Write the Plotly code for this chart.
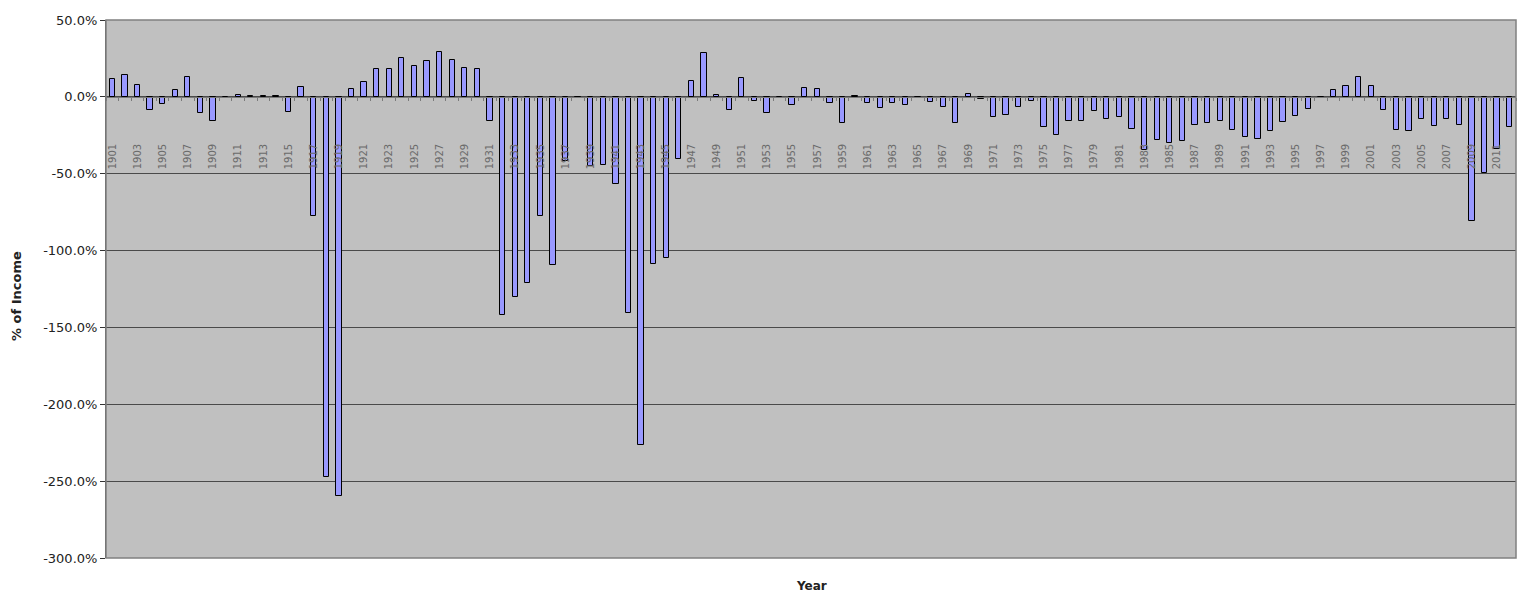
import plotly.graph_objects as go

years = list(range(1901, 2013))
values = [
    11.3, 14.1, 8.0, -8.7, -4.5, 4.3, 13.0, -10.4, -15.8, -1.0,
    1.5, 0.8, 0.4, 0.3, -9.7, 6.5, -77.5, -247.0, -259.7, 4.8,
    9.5, 18.4, 18.4, 25.1, 19.9, 23.2, 29.0, 24.0, 19.0, 18.4,
    -15.8, -141.8, -129.9, -121.2, -77.5, -109.5, -41.8, -0.3, -45.0, -44.4,
    -56.5, -140.3, -226.4, -108.5, -104.8, -40.7, 10.6, 28.6, 1.5, -8.7,
    12.1, -3.0, -10.4, -1.0, -5.2, 5.6, 4.8, -4.3, -16.9, 0.5,
    -3.7, -7.4, -4.3, -5.2, -1.0, -3.2, -6.5, -17.1, 1.7, -1.2,
    -12.8, -11.5, -6.7, -2.6, -19.5, -24.9, -15.4, -15.6, -9.1, -14.5,
    -13.4, -20.6, -34.6, -28.1, -29.7, -28.8, -18.2, -17.3, -15.6, -21.6,
    -25.8, -27.1, -22.3, -16.2, -12.3, -7.6, -1.0, 4.5, 7.1, 12.6,
    6.9, -8.4, -21.4, -22.5, -14.5, -18.8, -14.5, -18.2, -80.8, -49.8,
    -33.6, -19.7,
]
x_tick_years = list(range(1901, 2012, 2))
x_tick_labels = [str(y) for y in x_tick_years]
y_tick_vals = [50, 0, -50, -100, -150, -200, -250, -300]
y_tick_labels = ["50.0%", "0.0%", "-50.0%", "-100.0%", "-150.0%", "-200.0%", "-250.0%", "-300.0%"]

y_min, y_max = -300, 50
font_family = "DejaVu Sans, Arial, sans-serif"

fig = go.Figure()
fig.add_trace(go.Bar(
    x=years, y=values, width=0.42,
    marker=dict(color="#9999ff", line=dict(color="#000000", width=1)),
    showlegend=False,
))

fig.update_layout(
    width=1518, height=594,
    autosize=False,
    margin=dict(l=106, r=2, t=20, b=36),
    paper_bgcolor="white",
    plot_bgcolor="#c0c0c0",
    font=dict(family=font_family, color="#222222"),
    bargap=0,
    xaxis=dict(
        range=[1900.5, 2012.5],
        anchor="free",
        position=(0 - y_min) / (y_max - y_min),
        tickmode="array", tickvals=x_tick_years, ticktext=x_tick_labels,
        tickangle=-90,
        tickfont=dict(size=10, color="#6a6a6a", family=font_family),
        ticks="", ticklabelstandoff=42,
        showgrid=False, zeroline=False,
        showline=True, linecolor="#7a7a7a", linewidth=1,
        minor=dict(tickmode="linear", tick0=0.5, dtick=1, ticks="outside",
                   ticklen=3, tickcolor="#7a7a7a", showgrid=False),
    ),
    yaxis=dict(
        range=[y_min, y_max],
        tickmode="array", tickvals=y_tick_vals, ticktext=y_tick_labels,
        tickfont=dict(size=13, color="#222222", family=font_family),
        ticks="outside", ticklen=5, tickcolor="#333333",
        showgrid=True, gridcolor="#4a4a4a", gridwidth=1,
        zeroline=False,
        showline=True, linecolor="#555555", linewidth=1,
    ),
    shapes=[dict(type="rect", xref="paper", yref="paper", x0=0, x1=1, y0=0, y1=1,
                 line=dict(color="#808080", width=1.5), fillcolor="rgba(0,0,0,0)", layer="above")],
    annotations=[
        dict(text="<b>Year</b>", xref="paper", yref="paper", x=0.5, y=0,
             yanchor="middle", yshift=-28, showarrow=False,
             font=dict(size=12, family=font_family, color="#222222")),
        dict(text="<b>% of Income</b>", xref="paper", yref="paper", x=0, y=0.487,
             xanchor="center", yanchor="middle", xshift=-89, textangle=-90, showarrow=False,
             font=dict(size=13, family=font_family, color="#222222")),
    ],
)

fig.write_html("out.html", config={"displayModeBar": False})

with open("out.html", "r", encoding="utf-8") as f:
    html = f.read()
html = html.replace("<head>", "<head><style>html,body{margin:0;padding:0;overflow:hidden;}</style>", 1)
with open("out.html", "w", encoding="utf-8") as f:
    f.write(html)
